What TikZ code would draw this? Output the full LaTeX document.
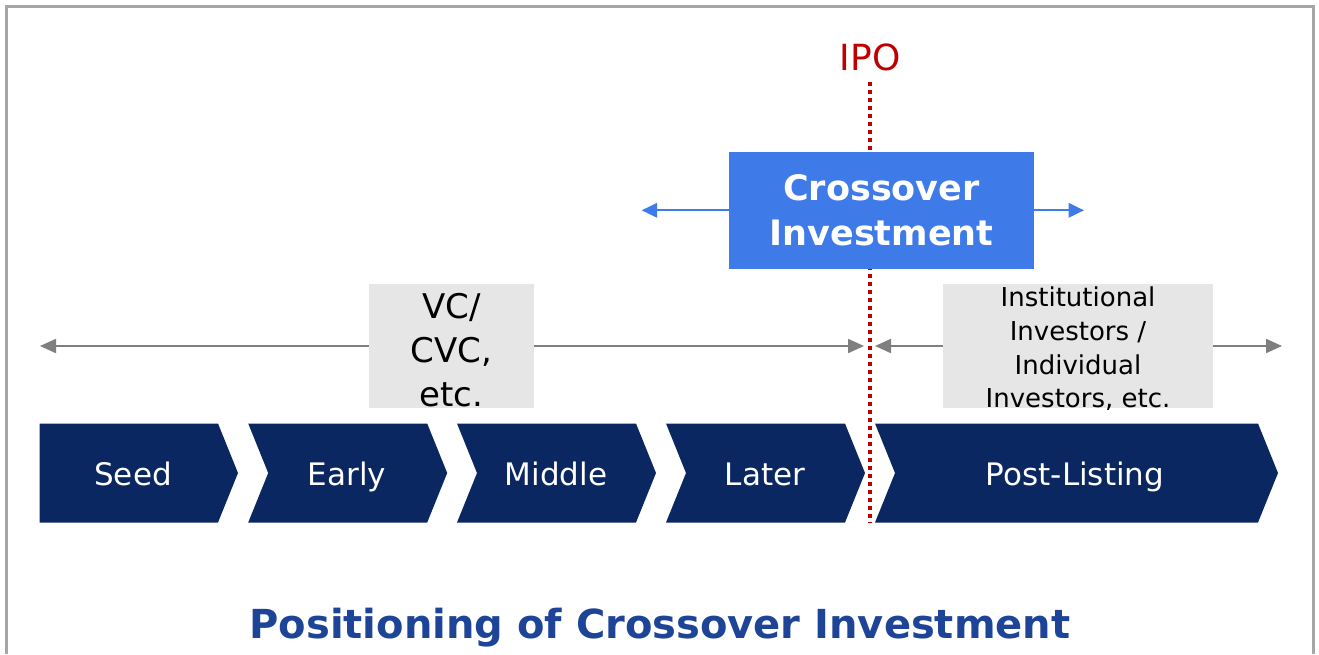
\documentclass[tikz,border=0pt]{standalone}
\usepackage{fontspec}
\setmainfont{DejaVu Sans}
\usetikzlibrary{arrows.meta}
\definecolor{framegray}{HTML}{A6A6A6}
\definecolor{navy}{HTML}{0B2762}
\definecolor{xblue}{HTML}{3E7BE9}
\definecolor{boxgray}{HTML}{E6E6E6}
\definecolor{arrowgray}{HTML}{7F7F7F}
\definecolor{ipored}{HTML}{C00000}
\definecolor{titleblue}{HTML}{1D4496}
\tikzset{
  stagelabel/.style={anchor=base, inner sep=0pt, text=white, font=\fontsize{31}{37}\selectfont},
  investorbox/.style={fill=boxgray, inner sep=0pt, minimum height=124pt},
  grayarrow/.style={draw=arrowgray, line width=2pt, -{Triangle[length=16pt,width=14pt]}},
  bluearrow/.style={draw=xblue, line width=2pt, -{Triangle[length=15.5pt,width=14.5pt]}},
  chevron/.style={fill=navy},
}
\begin{document}
\begin{tikzpicture}[x=1pt,y=-1pt]
\useasboundingbox (0,0) rectangle (1319,654);

% outer frame (open at the bottom)
\draw[framegray, line width=3pt] (6.5,654) -- (6.5,6.5) -- (1313,6.5) -- (1313,654);

% stage chevrons
\fill[chevron] (39.5,423.5) -- (218,423.5) -- (238,473) -- (218,522.5) -- (39.5,522.5) -- cycle;
\foreach \x/\w in {248.2/179, 457/179, 666/179, 875/383}
  \fill[chevron] (\x,423.5) -- ++(\w,0) -- ++(20,49.5) -- ++(-20,49.5) -- (\x,522.5) -- ++(20,-49.5) -- cycle;

\node[stagelabel] (seed)   at (133,485)  {Seed};
\node[stagelabel] (early)  at (347,485)  {Early};
\node[stagelabel] (middle) at (556,485)  {Middle};
\node[stagelabel] (later)  at (765,485)  {Later};
\node[stagelabel] (post)   at (1075,485) {Post-Listing};

% investor ranges
\node[investorbox, minimum width=165pt] (vcbox)   at (451.5,346) {};
\node[investorbox, minimum width=270pt] (instbox) at (1078,346) {};
\coordinate (vcL)   at (40,346);
\coordinate (vcR)   at (864,346);
\coordinate (instL) at (875,346);
\coordinate (instR) at (1282,346);
\draw[grayarrow] (vcbox.west) -- (vcL);
\draw[grayarrow] (vcbox.east) -- (vcR);
\draw[grayarrow] (instbox.west) -- (instL);
\draw[grayarrow] (instbox.east) -- (instR);

% multi-line labels sit on the baseline of their last line
\node[anchor=base, inner sep=0pt, align=center, font=\fontsize{34}{44}\selectfont]
  (vclabel) at (451.5,406) {VC/\\CVC,\\etc.};
\node[anchor=base, inner sep=0pt, align=center, font=\fontsize{26}{33.7}\selectfont]
  (instlabel) at (1078,407.7) {Institutional\\Investors /\\Individual\\Investors, etc.};

% IPO marker
\node[anchor=base, inner sep=0pt, text=ipored, font=\fontsize{36}{43}\selectfont] (ipo) at (870,70) {IPO};
\coordinate (ipotop) at (870,82);
\coordinate (ipobot) at (870,522.7);
\draw[ipored, line width=3.3pt, dash pattern=on 4pt off 4pt] (ipotop) -- (ipobot);

% crossover investment
\coordinate (xL) at (641.7,210.3);
\coordinate (xR) at (1084,210.3);
\node[fill=xblue, inner sep=0pt, minimum width=305pt, minimum height=116.7pt,
      text=white, align=center, font=\bfseries\fontsize{35}{45}\selectfont]
  (xbox) at (881.5,210.3) {Crossover\\Investment};
\draw[bluearrow] (xbox.west) -- (xL);
\draw[bluearrow] (xbox.east) -- (xR);

% caption
\node[anchor=base, inner sep=0pt, text=titleblue, font=\bfseries\fontsize{40}{48}\selectfont]
  (title) at (660,638) {Positioning of Crossover Investment};
\end{tikzpicture}
\end{document}
